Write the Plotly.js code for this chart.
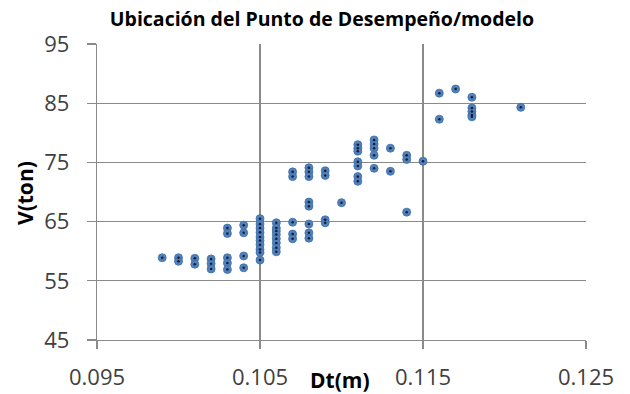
<!DOCTYPE html>
<html>
<head>
<meta charset="utf-8">
<script src="https://cdn.plot.ly/plotly-3.0.1.min.js"></script>
<style>html,body{margin:0;padding:0;background:#fff;}#chart{width:630px;height:394px;}</style>
</head>
<body>
<div id="chart"></div>
<script>
// Dt (m) values
const dt = [
  0.099,
  0.100, 0.100,
  0.101, 0.101,
  0.102, 0.102, 0.102,
  0.103, 0.103, 0.103, 0.103, 0.103,
  0.104, 0.104, 0.104, 0.104,
  0.105, 0.105, 0.105, 0.105, 0.105, 0.105, 0.105, 0.105, 0.105, 0.105,
  0.106, 0.106, 0.106, 0.106, 0.106, 0.106, 0.106, 0.106,
  0.107, 0.107, 0.107, 0.107, 0.107,
  0.108, 0.108, 0.108, 0.108, 0.108, 0.108, 0.108, 0.108,
  0.109, 0.109, 0.109, 0.109,
  0.110,
  0.111, 0.111, 0.111, 0.111, 0.111, 0.111, 0.111,
  0.112, 0.112, 0.112, 0.112, 0.112,
  0.113, 0.113,
  0.114, 0.114, 0.114,
  0.115,
  0.116, 0.116,
  0.117,
  0.118, 0.118, 0.118, 0.118, 0.118,
  0.121
];
// V (ton) values
const vTon = [
  58.9,
  58.9, 58.3,
  58.8, 57.8,
  58.7, 57.9, 57.0,
  63.9, 63.0, 58.9, 58.0, 56.9,
  64.4, 63.1, 59.2, 57.2,
  65.5, 64.6, 63.9, 63.2, 62.4, 61.8, 61.1, 60.3, 59.8, 58.5,
  64.8, 63.9, 63.4, 62.8, 62.1, 61.4, 60.6, 59.9,
  73.4, 72.6, 64.9, 62.9, 62.1,
  74.1, 73.4, 72.6, 68.3, 67.6, 64.6, 63.1, 62.2,
  73.6, 72.8, 65.3, 64.8,
  68.2,
  78.0, 77.4, 76.9, 75.1, 74.4, 72.6, 71.8,
  78.8, 78.1, 77.4, 76.2, 74.0,
  77.4, 73.5,
  76.2, 75.5, 66.6,
  75.2,
  86.7, 82.3,
  87.4,
  86.0, 84.2, 83.6, 83.0, 82.7,
  84.3
];
const xTicks = [0.095, 0.105, 0.115, 0.125];
const xTickText = ["0.095", "0.105", "0.115", "0.125"];
const yTicks = [45, 55, 65, 75, 85, 95];

const gridCol = "#8a8a8a";
const traces = [
  {x: dt, y: vTon, type: "scatter", mode: "markers", hoverinfo: "skip",
   marker: {size: 8, color: "#4F81BD", line: {width: 0.8, color: "#3f6fa8"}}},
  {x: dt, y: vTon, type: "scatter", mode: "markers", hoverinfo: "skip",
   marker: {size: 2.5, color: "#1a1a2e"}}
];
const layout = {
  width: 630, height: 394,
  margin: {l: 97, r: 44, t: 44, b: 54},
  paper_bgcolor: "#fff", plot_bgcolor: "#fff",
  showlegend: false,
  font: {family: "Open Sans, sans-serif", color: "#404040"},
  title: {text: "Ubicación del Punto de Desempeño/modelo",
          font: {family: "Open Sans", size: 19.5, color: "#000", weight: "bold"},
          xref: "paper", x: 0.46, xanchor: "center", y: 0.952, yanchor: "middle"},
  xaxis: {range: [0.095, 0.125], tickvals: xTicks, ticktext: xTickText,
          showgrid: true, gridcolor: gridCol, gridwidth: 1.3,
          showline: true, linecolor: gridCol, linewidth: 1.3, mirror: false,
          ticks: "outside", ticklen: 8, tickcolor: gridCol, tickwidth: 1.3,
          ticklabelstandoff: 9,
          tickfont: {family: "Open Sans", size: 22, color: "#404040"},
          zeroline: false},
  yaxis: {range: [45, 95], tickvals: yTicks,
          showgrid: true, gridcolor: gridCol, gridwidth: 1.3,
          showline: true, linecolor: gridCol, linewidth: 1.3,
          ticks: "outside", ticklen: 9, tickcolor: gridCol, tickwidth: 1.3,
          ticklabelstandoff: 13,
          tickfont: {family: "Open Sans", size: 22, color: "#404040"},
          zeroline: false},
  annotations: [
    {text: "Dt(m)", xref: "paper", yref: "paper", x: 0.497, y: -0.135,
     xanchor: "center", yanchor: "middle", showarrow: false,
     font: {family: "Open Sans", size: 21, color: "#000", weight: "bold"}},
    {text: "V(ton)", xref: "paper", yref: "paper", x: -0.147, y: 0.497,
     xanchor: "center", yanchor: "middle", showarrow: false, textangle: -90,
     font: {family: "Open Sans", size: 21, color: "#000", weight: "bold"}}
  ]
};
Plotly.newPlot("chart", traces, layout, {staticPlot: true, displayModeBar: false});
</script>
</body>
</html>
